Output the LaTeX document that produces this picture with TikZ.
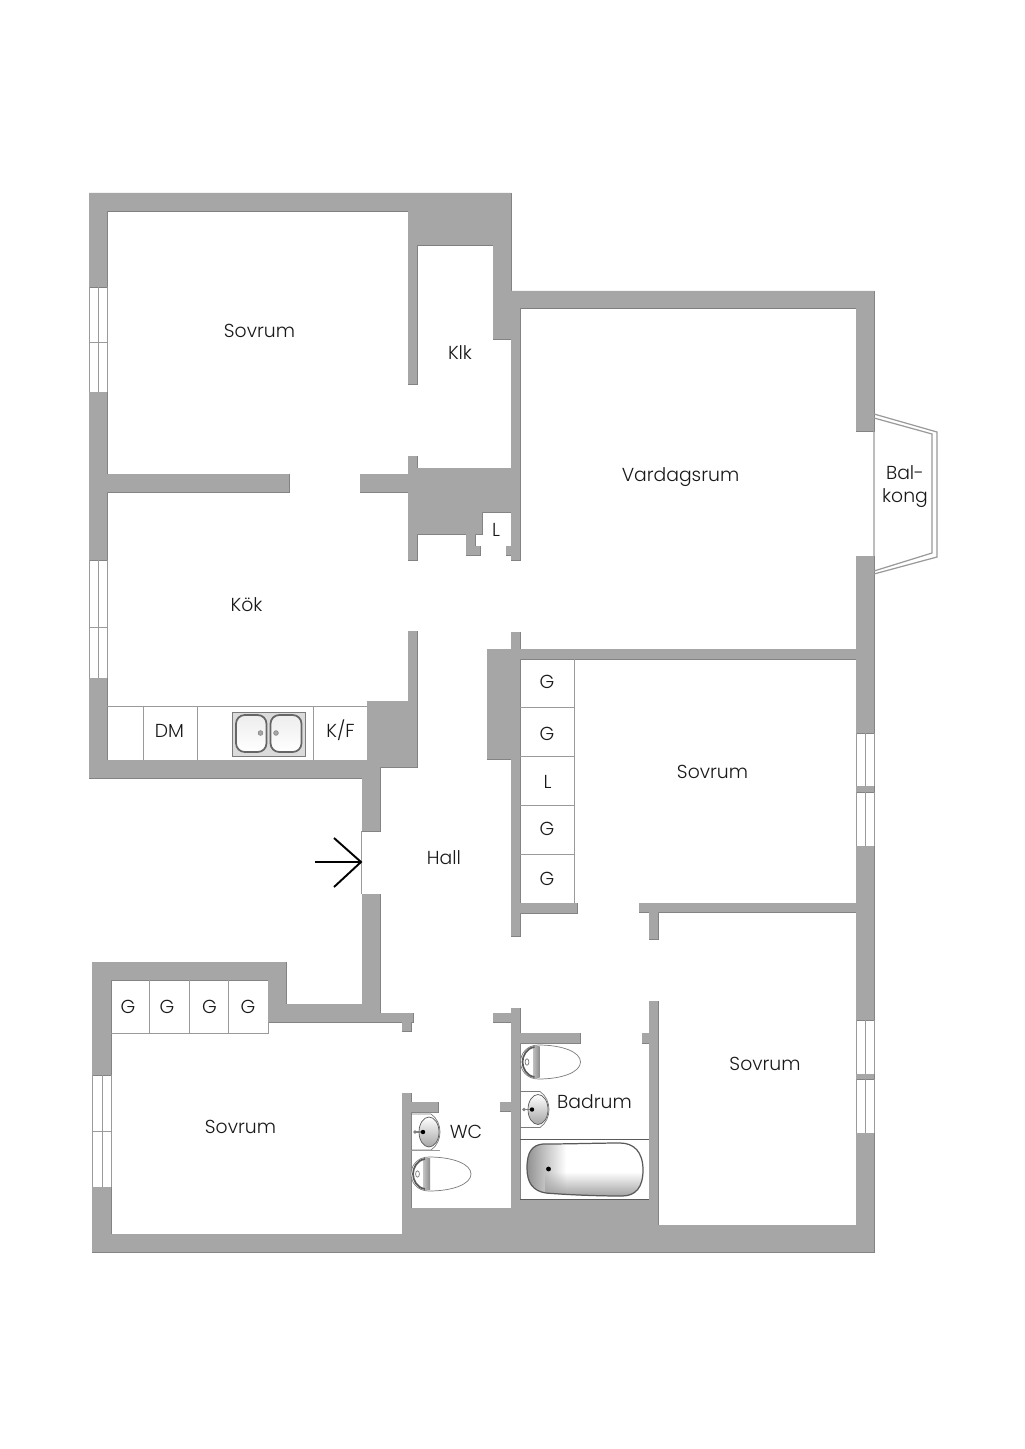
\documentclass[tikz,border=0pt]{standalone}
\usepackage{fontspec}
\setmainfont{Poppins}[UprightFont=* Light]
\usetikzlibrary{fadings}
\definecolor{wallgray}{HTML}{A6A6A6}
\definecolor{walledge}{HTML}{7F7F7F}
\definecolor{thingray}{HTML}{9A9A9A}
\definecolor{darkrim}{HTML}{5A5A5A}

\newcommand{\wallpath}{
   (89,193) rectangle (511,211)
   (408,193) rectangle (511,245)
   (408,211) rectangle (417,384)
   (493,245) rectangle (511,339)
   (511,291) rectangle (874,308)
   (511,308) rectangle (520,560)
   (408,456) rectangle (417,560)
   (360,474) rectangle (408,492)
   (417,468) rectangle (511,512)
   (417,512) rectangle (482,534)
   (466,534) rectangle (475,555)
   (475,546) rectangle (480,555)
   (506,546) rectangle (511,555)
   (107,474) rectangle (289,492)
   (89,193) rectangle (107,287)
   (89,392) rectangle (107,560)
   (89,678) rectangle (107,778)
   (89,760) rectangle (362,778)
   (367,701) rectangle (417,767)
   (408,631) rectangle (417,701)
   (362,760) rectangle (380,831)
   (856,291) rectangle (874,431)
   (856,556) rectangle (874,733)
   (856,786) rectangle (874,792)
   (856,846) rectangle (874,1020)
   (856,1074) rectangle (874,1079)
   (856,1133) rectangle (874,1252)
   (511,632) rectangle (520,936)
   (487,649) rectangle (511,759)
   (520,649) rectangle (856,659)
   (520,903) rectangle (577,913)
   (639,903) rectangle (856,912)
   (649,912) rectangle (658,939)
   (649,1001) rectangle (658,1252)
   (642,1033) rectangle (649,1043)
   (658,1225) rectangle (874,1252)
   (362,894) rectangle (380,1022)
   (92,962) rectangle (286,980)
   (92,962) rectangle (111,1075)
   (92,1187) rectangle (111,1252)
   (268,962) rectangle (286,1022)
   (268,1004) rectangle (380,1022)
   (380,1013) rectangle (413,1022)
   (402,1022) rectangle (411,1031)
   (402,1093) rectangle (411,1252)
   (411,1102) rectangle (438,1112)
   (92,1234) rectangle (874,1252)
   (402,1208) rectangle (520,1252)
   (511,1008) rectangle (520,1252)
   (493,1013) rectangle (511,1022)
   (500,1102) rectangle (511,1111)
   (520,1033) rectangle (580,1043)
   (520,1199) rectangle (649,1252)
}

\newcommand{\bathpath}{
   (543,1144) .. controls (570,1144) and (600,1143) .. (620,1143)
     .. controls (634,1143) and (643,1152) .. (643,1170)
     .. controls (643,1187) and (636,1196) .. (622,1196)
     .. controls (600,1196) and (570,1195) .. (546,1193)
     .. controls (533,1191) and (527,1183) .. (527,1168)
     .. controls (527,1152) and (532,1145) .. (543,1144) -- cycle
}

\tikzset{
  wallline/.style={draw=walledge,line width=0.45pt},
  wallfill/.style={fill=wallgray},
  thinline/.style={draw=thingray,line width=0.5pt},
  fixture/.style={draw=darkrim!80,line width=0.4pt},
  roomlabel/.style={inner sep=0pt,text=black!90,text height=8.7pt,text depth=0pt,font=\fontsize{10.7}{12}\selectfont},
  toilet/.pic={
    \draw[fixture,fill=white] (18,-17) .. controls (42,-17) and (60,-10) .. (60,0)
       .. controls (60,10) and (42,17) .. (18,17)
       .. controls (6,17) and (0,8) .. (0,0)
       .. controls (0,-8) and (6,-17) .. (18,-17);
    \shade[left color=gray!50,right color=gray!90] (12.5,-15.5) rectangle (19,15.5);
    \draw[draw=darkrim,line width=1pt] (14,-15) .. controls (6,-14) and (2,-6) .. (2,0)
       .. controls (2,6) and (6,14) .. (14,15);
    \draw[fixture] (6.5,0) ellipse (1.9 and 3.2);
  },
  basin/.pic={
    \draw[fixture] (0,-18) -- (20,-18) .. controls (26,-14) and (29,-7) .. (29,0)
       .. controls (29,7) and (26,14) .. (20,18) -- (0,18);
    \shade[top color=white,middle color=white,bottom color=gray!70,draw=darkrim,line width=0.4pt] (18,0) ellipse (10 and 15);
    \draw[draw=gray,line width=0.7pt] (4,0) -- (12,0);
    \fill[gray] (4,0) circle (1.8);
    \fill[black] (12,0) circle (2.2);
  },
  spigot/.style={fill=gray!70,draw=gray,line width=0.3pt}
}

\begin{document}
\begin{tikzpicture}[x=0.02cm,y=-0.02cm]

\useasboundingbox (0,0) rectangle (1024,1449);
\fill[white] (0,0) rectangle (1024,1449);

%%% walls %%%

\draw[wallline] \wallpath;
\fill[wallfill] \wallpath;

%%% windows %%%

\draw[thinline]
   (89,287) -- (89,392) (98,287) -- (98,392) (107,287) -- (107,392) (89,342) -- (107,342)
   (89,560) -- (89,678) (98,560) -- (98,678) (107,560) -- (107,678) (89,627) -- (107,627)
   (92,1075) -- (92,1187) (102,1075) -- (102,1187) (111,1075) -- (111,1187) (92,1131) -- (111,1131)
   (856,733) -- (856,786) (865,733) -- (865,786) (874,733) -- (874,786)
   (856,792) -- (856,846) (865,792) -- (865,846) (874,792) -- (874,846)
   (856,1020) -- (856,1074) (865,1020) -- (865,1074) (874,1020) -- (874,1074)
   (856,1079) -- (856,1133) (865,1079) -- (865,1133) (874,1079) -- (874,1133);

%%% balcony %%%

\draw[thinline,line width=0.7pt]
   (874,431) -- (874,556)
   (874,414) -- (937,432) -- (937,557) -- (874,574)
   (874,418) -- (932,434) -- (932,553) -- (874,571);

%%% kitchen counter %%%

\draw[thinline]
   (107,706) -- (367,706)
   (143,706) -- (143,760)
   (197,706) -- (197,760)
   (313,706) -- (313,760);

\draw[fixture,fill=gray!28] (232,712) rectangle (305,756);
\draw[black!60,line width=1pt,top color=gray!14,bottom color=white,rounded corners=5pt] (236,715) rectangle (266.5,752);
\draw[black!60,line width=1pt,top color=gray!14,bottom color=white,rounded corners=5pt] (270.5,715) rectangle (301.5,752);
\fill[spigot] (260.5,733) circle (2.4) (276,733) circle (2.4);

%%% closets %%%

\draw[thinline]
   (574,659) -- (574,903)
   (520,707) -- (574,707)
   (520,756) -- (574,756)
   (520,805) -- (574,805)
   (520,854) -- (574,854)
   (111,1033) -- (268,1033) -- (268,1022)
   (149,980) -- (149,1033)
   (189,980) -- (189,1033)
   (228,980) -- (228,1033);

%%% entrance %%%

\draw[thinline,line width=0.7pt] (361.5,831) -- (361.5,894);

\coordinate (entrytail) at (315,862);
\coordinate (entrytip) at (361,862);
\coordinate (entryup) at (334,838);
\coordinate (entrydown) at (334,887);
\draw[line width=1.1pt] (entrytail) -- (entrytip);
\draw[line width=1.1pt] (entryup) -- (entrytip) -- (entrydown);

%%% bathroom and wc %%%

\pic at (520.5,1062) {toilet};
\pic at (411,1174) {toilet};
\pic at (520,1109.5) {basin};
\pic at (411,1132) {basin};
\draw[thinline] (411,1150) -- (440,1150);

\draw[darkrim,line width=0.5pt] (520,1139.5) -- (648.5,1139.5) (520,1199) -- (648.5,1199);

\begin{scope}
  \clip \bathpath;
  \fill[gray!90,path fading=east] (525,1142) rectangle (566,1197);
  \fill[gray!75,path fading=north] (545,1172) rectangle (645,1197);
\end{scope}
\draw[darkrim,line width=0.7pt] \bathpath;
\fill[black] (548.5,1169) circle (2.4);

%%% labels %%%

\node[roomlabel] (sovrumnw) at (259.5,330) {Sovrum};
\node[roomlabel] (klk) at (460,352) {Klk};
\node[roomlabel] (vardagsrum) at (680.5,474) {Vardagsrum};
\node[roomlabel] (balkongi) at (905,472) {Bal-};
\node[roomlabel] (balkongii) at (905,494.5) {kong};
\node[roomlabel] (linen) at (496,529) {L};
\node[roomlabel] (kok) at (246.5,604) {Kök};
\node[roomlabel] (dm) at (169.5,730) {DM};
\node[roomlabel] (kf) at (340.5,730) {K/F};
\node[roomlabel] (gi) at (547,681) {G};
\node[roomlabel] (gii) at (547,733) {G};
\node[roomlabel] (lmid) at (547.5,781) {L};
\node[roomlabel] (giii) at (547,828) {G};
\node[roomlabel] (giv) at (547,878) {G};
\node[roomlabel] (sovrumne) at (712.5,771) {Sovrum};
\node[roomlabel] (hall) at (444,857) {Hall};
\node[roomlabel] (ga) at (128,1006) {G};
\node[roomlabel] (gb) at (167,1006) {G};
\node[roomlabel] (gc) at (209.5,1006) {G};
\node[roomlabel] (gd) at (248,1006) {G};
\node[roomlabel] (sovrumsw) at (240.5,1126) {Sovrum};
\node[roomlabel] (wc) at (466,1131) {WC};
\node[roomlabel] (badrum) at (594.5,1101) {Badrum};
\node[roomlabel] (sovrumse) at (765,1063) {Sovrum};

\end{tikzpicture}
\end{document}
